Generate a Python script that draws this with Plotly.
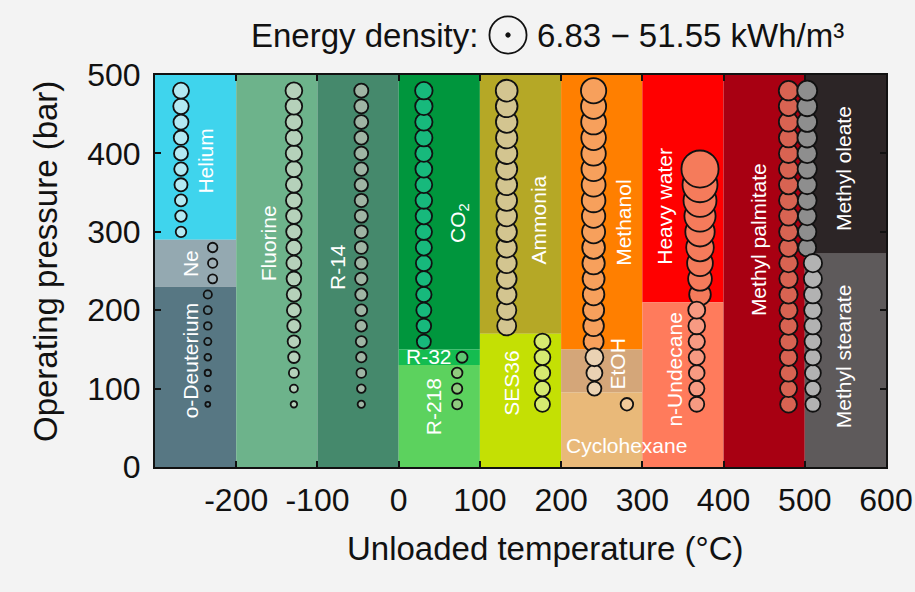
import plotly.graph_objects as go

# ---------------- data ----------------
# Background regions: fluid name, temperature span (°C), pressure span (bar), colour
region_names = ["Helium", "Ne", "o-Deuterium", "Fluorine", "R-14", "CO2", "R-32", "R-218",
                "Ammonia", "SES36", "Methanol", "EtOH", "Cyclohexane", "Heavy water",
                "n-Undecane", "Methyl palmitate", "Methyl oleate", "Methyl stearate"]
region_t0 = [-300, -300, -300, -200, -100, 0, 0, 0, 100, 100, 200, 200, 200, 300, 300, 400, 500, 500]
region_t1 = [-200, -200, -200, -100, 0, 100, 100, 100, 200, 200, 300, 300, 300, 400, 400, 500, 600, 600]
region_p0 = [290, 230, 0, 0, 0, 150, 130, 0, 170, 0, 150, 95, 0, 210, 0, 0, 272, 0]
region_p1 = [500, 290, 230, 500, 500, 500, 150, 130, 500, 170, 500, 150, 95, 500, 210, 500, 500, 272]
region_colors = ["#3fd4ed", "#94a9b1", "#577783", "#6db38b", "#45896c", "#00963d", "#14bc50", "#5cd25e",
                 "#b5a826", "#c4e004", "#ff7f00", "#d4a679", "#e9b979", "#ff0000",
                 "#ff7b5c", "#a80012", "#2c2526", "#5e5a5b"]

# Scatter series: unloaded temperature (°C), operating pressures (bar), energy density (kWh/m³)
helium_t = -268
helium_p = [300, 320, 340, 360, 380, 400, 420, 440, 460, 480]
helium_e = [14.6, 16.0, 16.7, 18.1, 18.8, 19.4, 20.1, 20.8, 21.5, 22.2]

ne_t = -229
ne_p = [240, 260, 280]
ne_e = [12.5, 13.0, 13.2]

odeut_t = -235
odeut_p = [80, 100, 120, 140, 160, 180, 200, 220]
odeut_e = [6.83, 7.9, 8.8, 9.4, 10.0, 10.6, 11.1, 11.5]

fluorine_t = -129
fluorine_p = [80, 100, 120, 140, 160, 180, 200, 220, 240, 260, 280, 300, 320, 340, 360, 380, 400, 420, 440, 460, 480]
fluorine_e = [9.0, 11.1, 13.9, 16.0, 17.4, 18.5, 19.4, 19.9, 20.4, 20.8, 21.1, 21.4, 21.7, 22.0, 22.2, 22.4, 22.6, 22.8, 23.0, 23.1, 23.3]

r14_t = -46
r14_p = [80, 100, 120, 140, 160, 180, 200, 220, 240, 260, 280, 300, 320, 340, 360, 380, 400, 420, 440, 460, 480]
r14_e = [10.2, 12.0, 13.5, 14.5, 15.3, 15.9, 16.4, 16.8, 17.2, 17.5, 17.8, 18.0, 18.2, 18.4, 18.6, 18.8, 19.0, 19.1, 19.3, 19.4, 19.6]

co2_t = 31
co2_p = [160, 180, 200, 220, 240, 260, 280, 300, 320, 340, 360, 380, 400, 420, 440, 460, 480]
co2_e = [19.5, 20.3, 20.9, 21.4, 21.8, 22.1, 22.4, 22.7, 22.9, 23.1, 23.3, 23.5, 23.7, 23.9, 24.0, 24.2, 24.3]

r32_t = 78
r32_p = [140]
r32_e = [15.3]

r218_t = 72
r218_p = [80, 100, 120]
r218_e = [13.9, 14.3, 14.7]

ammonia_t = 133
ammonia_p = [180, 200, 220, 240, 260, 280, 300, 320, 340, 360, 380, 400, 420, 440, 460, 480]
ammonia_e = [26.4, 26.8, 27.2, 27.5, 27.8, 28.1, 28.3, 28.6, 28.8, 29.0, 29.3, 29.5, 29.7, 29.9, 30.1, 30.3]

ses36_t = 177
ses36_p = [80, 100, 120, 140, 160]
ses36_e = [21.0, 21.4, 21.7, 22.0, 22.3]

methanol_t = 240
methanol_p = [160, 180, 200, 220, 240, 260, 280, 300, 320, 340, 360, 380, 400, 420, 440, 460, 480]
methanol_e = [27.8, 28.6, 29.3, 29.9, 30.5, 31.0, 31.5, 32.0, 32.4, 32.8, 33.2, 33.6, 33.9, 34.2, 34.5, 34.8, 35.1]

etoh_t = 241
etoh_p = [100, 120, 140]
etoh_e = [19.4, 22.2, 25.0]

cyclohexane_t = 281
cyclohexane_p = [80]
cyclohexane_e = [17.4]

heavywater_t = 371
heavywater_p = [220, 240, 260, 280, 300, 320, 340, 360, 380]
heavywater_e = [30.0, 33.0, 35.8, 38.4, 40.8, 43.3, 45.8, 48.6, 51.55]

undecane_t = 367
undecane_p = [80, 100, 120, 140, 160, 180, 200]
undecane_e = [20.8, 21.3, 21.8, 22.3, 22.7, 23.2, 23.6]

palmitate_t = 480
palmitate_p = [80, 100, 120, 140, 160, 180, 200, 220, 240, 260, 280, 300, 320, 340, 360, 380, 400, 420, 440, 460, 480]
palmitate_e = [23.2, 23.6, 24.0, 24.3, 24.6, 24.9, 25.1, 25.3, 25.5, 25.7, 25.9, 26.1, 26.2, 26.4, 26.5, 26.6, 26.7, 26.8, 26.9, 27.0, 27.1]

oleate_t = 503
oleate_p = [280, 300, 320, 340, 360, 380, 400, 420, 440, 460, 480]
oleate_e = [25.0, 25.4, 25.8, 26.1, 26.4, 26.7, 26.9, 27.1, 27.3, 27.5, 27.7]

stearate_t = 510
stearate_p = [80, 100, 120, 140, 160, 180, 200, 220, 240, 260]
stearate_e = [20.8, 21.5, 22.1, 22.7, 23.3, 23.8, 24.3, 24.7, 25.1, 25.5]

x_ticks = [-200, -100, 0, 100, 200, 300, 400, 500, 600]
x_ticklabels = ["-200", "-100", "0", "100", "200", "300", "400", "500", "600"]
y_ticks = [0, 100, 200, 300, 400, 500]
y_ticklabels = ["0", "100", "200", "300", "400", "500"]
e_min, e_max = 6.83, 51.55

# ---------------- styling ----------------
FONT = "Liberation Sans, Arial, sans-serif"
PX_PER_UNIT = 0.72  # marker diameter in px per kWh/m³

series = [
    (helium_t, helium_p, helium_e, "#b2e9f2"),
    (ne_t, ne_p, ne_e, "#9fb0b7"),
    (odeut_t, odeut_p, odeut_e, "#5f7e89"),
    (fluorine_t, fluorine_p, fluorine_e, "#b5d1ba"),
    (r14_t, r14_p, r14_e, "#9fb5a4"),
    (co2_t, co2_p, co2_e, "#17b97c"),
    (r32_t, r32_p, r32_e, "#5fc673"),
    (r218_t, r218_p, r218_e, "#90cb7e"),
    (ammonia_t, ammonia_p, ammonia_e, "#d3c590"),
    (ses36_t, ses36_p, ses36_e, "#d6ea70"),
    (methanol_t, methanol_p, methanol_e, "#f7a05c"),
    (etoh_t, etoh_p, etoh_e, "#ead2b3"),
    (cyclohexane_t, cyclohexane_p, cyclohexane_e, "#f2ca9a"),
    (heavywater_t, heavywater_p, heavywater_e, "#f57b5b"),
    (undecane_t, undecane_p, undecane_e, "#f79a82"),
    (palmitate_t, palmitate_p, palmitate_e, "#d86352"),
    (oleate_t, oleate_p, oleate_e, "#8e8e8e"),
    (stearate_t, stearate_p, stearate_e, "#b2b2b2"),
]

# label positions (x, y in data units), rotation
label_layout = {
    "Helium": (-238, 390, -90),
    "Ne": (-257, 260, -90),
    "o-Deuterium": (-257, 136, -90),
    "Fluorine": (-160, 285, -90),
    "R-14": (-76, 255, -90),
    "CO2": (74, 311, -90),
    "R-32": (37, 141, 0),
    "R-218": (43, 77, -90),
    "Ammonia": (172, 315, -90),
    "SES36": (139, 107, -90),
    "Methanol": (277, 311, -90),
    "EtOH": (270, 132, -90),
    "Cyclohexane": (280, 28, 0),
    "Heavy water": (328, 332, -90),
    "n-Undecane": (340, 124, -90),
    "Methyl palmitate": (443, 290, -90),
    "Methyl oleate": (548, 381, -90),
    "Methyl stearate": (548, 141, -90),
}
label_text = {"CO2": "CO<sub>2</sub>"}

fig = go.Figure()

for name, t0, t1, p0, p1, c in zip(region_names, region_t0, region_t1, region_p0, region_p1, region_colors):
    fig.add_shape(type="rect", xref="x", yref="y", x0=t0, x1=t1, y0=p0, y1=p1,
                  fillcolor=c, line=dict(width=0), layer="below")

for t, p, e, c in series:
    fig.add_trace(go.Scatter(
        x=[t] * len(p), y=p, mode="markers",
        marker=dict(size=e, sizemode="diameter", sizeref=1 / PX_PER_UNIT, color=c, opacity=1,
                    line=dict(color="#111111", width=1.8)),
        hoverinfo="skip", showlegend=False))

for name in region_names:
    lx, ly, ang = label_layout[name]
    fig.add_annotation(x=lx, y=ly, xref="x", yref="y", text=label_text.get(name, name),
                       textangle=ang, showarrow=False, xanchor="center", yanchor="middle",
                       font=dict(family=FONT, size=21, color="#ffffff"))

# Legend line at the top
W_PLOT, H_PLOT = 731, 392
leg_cx = (508 - 155) / W_PLOT
leg_cy = (467 - 35) / H_PLOT
fig.add_annotation(x=(480 - 155) / W_PLOT, y=leg_cy, xref="paper", yref="paper",
                   text="Energy density:", showarrow=False, xanchor="right", yanchor="middle",
                   font=dict(family=FONT, size=33, color="#111111"))
fig.add_annotation(x=(535 - 155) / W_PLOT, y=leg_cy, xref="paper", yref="paper",
                   text=f"{e_min:.2f} \u2212 {e_max:.2f} kWh/m\u00b3", showarrow=False,
                   xanchor="left", yanchor="middle",
                   font=dict(family=FONT, size=33, color="#111111"))
r_big = e_max * PX_PER_UNIT / 2
fig.add_shape(type="circle", xref="paper", yref="paper", xsizemode="pixel", ysizemode="pixel",
              xanchor=leg_cx, yanchor=leg_cy, x0=-r_big, x1=r_big, y0=-r_big, y1=r_big,
              line=dict(color="#111111", width=1.8), fillcolor="rgba(0,0,0,0)")
r_small = 2.2
fig.add_shape(type="circle", xref="paper", yref="paper", xsizemode="pixel", ysizemode="pixel",
              xanchor=leg_cx, yanchor=leg_cy, x0=-r_small, x1=r_small, y0=-r_small, y1=r_small,
              line=dict(color="#111111", width=1), fillcolor="#111111")

# Axis titles
fig.add_annotation(x=(545 - 155) / W_PLOT, y=(467 - 548) / H_PLOT, xref="paper", yref="paper",
                   text="Unloaded temperature (°C)", showarrow=False,
                   xanchor="center", yanchor="middle",
                   font=dict(family=FONT, size=33, color="#111111"))
fig.add_annotation(x=(45 - 155) / W_PLOT, y=(467 - 262) / H_PLOT, xref="paper", yref="paper",
                   text="Operating pressure (bar)", showarrow=False, textangle=-90,
                   xanchor="center", yanchor="middle",
                   font=dict(family=FONT, size=33, color="#111111"))

axis_common = dict(showline=True, linecolor="#111111", linewidth=2, mirror="ticks",
                   ticks="inside", ticklen=6, tickwidth=2, tickcolor="#111111",
                   showgrid=False, zeroline=False, automargin=False,
                   tickfont=dict(family=FONT, size=32, color="#111111"))

fig.update_layout(
    width=915, height=592,
    margin=dict(l=155, r=29, t=75, b=125),
    paper_bgcolor="#f3f3f3", plot_bgcolor="#f3f3f3",
    xaxis=dict(range=[-300, 600], tickvals=x_ticks, ticktext=x_ticklabels, ticklabelstandoff=4,
               **axis_common),
    yaxis=dict(range=[0, 500], tickvals=y_ticks, ticktext=y_ticklabels, ticklabelstandoff=6,
               **axis_common),
)

fig.write_html("out.html")
